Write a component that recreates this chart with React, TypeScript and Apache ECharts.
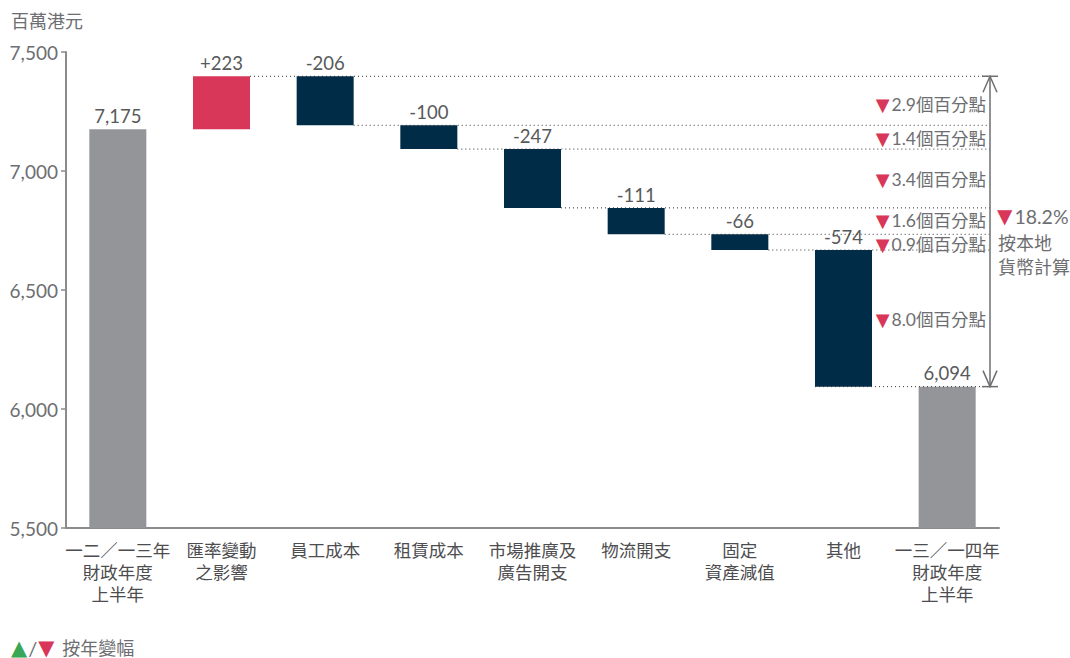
import React, { useEffect, useRef } from "react";
import * as echarts from "echarts";

const categories = [
  "一二／一三年\n財政年度\n上半年",
  "匯率變動\n之影響",
  "員工成本",
  "租賃成本",
  "市場推廣及\n廣告開支",
  "物流開支",
  "固定\n資產減值",
  "其他",
  "一三／一四年\n財政年度\n上半年",
];
const startValue = 7175;
const changes = [223, -206, -100, -247, -111, -66, -574];
const endValue = 6094;
const valueLabels = ["7,175", "+223", "-206", "-100", "-247", "-111", "-66", "-574", "6,094"];
const pctChanges = ["2.9", "1.4", "3.4", "1.6", "0.9", "8.0"];
const totalChange = "18.2%";
const yTicks = { min: 5500, max: 7500, interval: 500 };

const GRAY = "#939598";
const RED = "#d83759";
const NAVY = "#002c47";
const TEXT = "#6d6e71";
const FONT = "Lato, 'Noto Sans CJK TC', sans-serif";
const TRI = "DejaVu Sans";
const annotNudge = [4, 1, 1, -1, 2, 1];

export default function App() {
  const ref = useRef<HTMLDivElement>(null);
  useEffect(() => {
    const chart = echarts.init(ref.current!, null, { renderer: "svg" });

    const levels: number[] = [startValue];
    changes.forEach((c) => levels.push(levels[levels.length - 1] + c));
    const base: any[] = ["-"];
    const vals: any[] = [{ value: startValue, itemStyle: { color: GRAY } }];
    changes.forEach((c, i) => {
      base.push(Math.min(levels[i], levels[i + 1]));
      vals.push({ value: Math.abs(c), itemStyle: { color: c >= 0 ? RED : NAVY } });
    });
    base.push("-");
    vals.push({ value: endValue, itemStyle: { color: GRAY } });

    const connectors: number[][] = [];
    for (let i = 1; i < levels.length - 1; i++) connectors.push([i, levels[i], 1]);
    connectors.push([changes.length, endValue, -1]);
    const annots: number[][] = [];
    for (let i = 1; i < changes.length; i++) annots.push([i + 1, levels[i], levels[i + 1]]);
    const lastIdx = categories.length - 1;
    const barPct = 0.55;

    chart.setOption({
      animation: false,
      grid: { left: 66, right: 71, top: 52, bottom: 130, containLabel: false },
      xAxis: {
        type: "category",
        data: categories,
        axisLine: { lineStyle: { color: "#8b8b8e", width: 2 } },
        axisTick: { length: 6, lineStyle: { color: "#8b8b8e", width: 1.5 } },
        axisLabel: {
          color: "#4d4d4f",
          fontSize: 17.5,
          fontFamily: FONT,
          lineHeight: 22,
          margin: 11,
          interval: 0,
        },
      },
      yAxis: {
        type: "value",
        min: yTicks.min,
        max: yTicks.max,
        interval: yTicks.interval,
        splitLine: { show: false },
        axisLine: { show: true, lineStyle: { color: "#8b8b8e", width: 2 } },
        axisTick: { show: true, length: 5, lineStyle: { color: "#8b8b8e", width: 1.5 } },
        axisLabel: {
          color: TEXT,
          fontSize: 19,
          fontFamily: FONT,
          margin: 8,
          formatter: (v: number) => v.toLocaleString("en-US"),
        },
      },
      series: [
        {
          type: "bar",
          stack: "w",
          data: base,
          barWidth: "55%",
          itemStyle: { color: "transparent" },
          silent: true,
        },
        {
          type: "bar",
          stack: "w",
          data: vals,
          barWidth: "55%",
          label: {
            show: true,
            position: "top",
            distance: 4,
            color: "#58595b",
            fontSize: 18.5,
            fontFamily: FONT,
            formatter: (p: any) => valueLabels[p.dataIndex],
          },
        },
        {
          type: "custom",
          silent: true,
          z: 5,
          data: connectors,
          encode: { x: 0, y: 1 },
          renderItem: (params: any, api: any) => {
            const idx = api.value(0);
            const lvl = api.value(1);
            const side = api.value(2);
            const p = api.coord([idx, lvl]);
            const w = api.size([1, 0])[0];
            const endX = api.coord([lastIdx, lvl])[0] + w / 2 - 9;
            const x0 = p[0] + (side * w * barPct) / 2;
            return {
              type: "line",
              shape: { x1: x0, y1: p[1], x2: endX, y2: p[1] },
              style: { stroke: "#333", lineWidth: 1, lineDash: [1, 3] },
            };
          },
        },
        {
          type: "custom",
          silent: true,
          z: 6,
          data: annots,
          encode: { x: 0, y: 1 },
          renderItem: (params: any, api: any) => {
            const hi = api.value(1);
            const lo = api.value(2);
            const w = api.size([1, 0])[0];
            const arrowX = api.coord([lastIdx, hi])[0] + w / 2 - 9;
            const y = api.coord([lastIdx, (hi + lo) / 2])[1];
            return {
              type: "text",
              x: arrowX - 4,
              y: y + annotNudge[params.dataIndex],
              style: {
                text: "{t|▼}{n|" + pctChanges[params.dataIndex] + "個百分點}",
                align: "right",
                verticalAlign: "middle",
                rich: {
                  t: { fill: RED, fontSize: 18, lineHeight: 17, fontFamily: TRI, padding: [0, 2, 0, 0] },
                  n: { fill: TEXT, fontSize: 17.5, lineHeight: 17, fontFamily: FONT },
                },
              },
            };
          },
        },
        {
          type: "custom",
          silent: true,
          z: 6,
          data: [[lastIdx, levels[1], endValue]],
          encode: { x: 0, y: 1 },
          renderItem: (params: any, api: any) => {
            const top = api.value(1);
            const bot = api.value(2);
            const w = api.size([1, 0])[0];
            const pTop = api.coord([lastIdx, top]);
            const pBot = api.coord([lastIdx, bot]);
            const x = pTop[0] + w / 2 - 9;
            const st = { stroke: "#6d6e71", lineWidth: 1.5, fill: "none" };
            return {
              type: "group",
              children: [
                { type: "line", shape: { x1: x, y1: pTop[1], x2: x, y2: pBot[1] }, style: st },
                { type: "line", shape: { x1: x - 8, y1: pTop[1], x2: x + 8, y2: pTop[1] }, style: st },
                { type: "line", shape: { x1: x - 8, y1: pBot[1], x2: x + 8, y2: pBot[1] }, style: st },
                {
                  type: "polyline",
                  shape: { points: [[x - 7, pTop[1] + 16], [x, pTop[1]], [x + 7, pTop[1] + 16]] },
                  style: st,
                },
                {
                  type: "polyline",
                  shape: { points: [[x - 7, pBot[1] - 16], [x, pBot[1]], [x + 7, pBot[1] - 16]] },
                  style: st,
                },
              ],
            };
          },
        },
      ],
      graphic: [
        {
          type: "text",
          left: 11,
          top: 12,
          style: { text: "百萬港元", fill: TEXT, fontSize: 18, fontFamily: FONT },
        },
        {
          type: "text",
          left: 997,
          top: 206,
          style: {
            text: "{t|▼}{n|" + totalChange + "}",
            rich: {
              t: { fill: RED, fontSize: 20, fontFamily: TRI, padding: [0, 2, 0, 0] },
              n: { fill: TEXT, fontSize: 19.5, fontFamily: FONT },
            },
          },
        },
        {
          type: "text",
          left: 998,
          top: 231,
          style: {
            text: "按本地\n貨幣計算",
            fill: TEXT,
            fontSize: 18,
            lineHeight: 24,
            fontFamily: FONT,
          },
        },
        {
          type: "text",
          left: 11,
          top: 637,
          style: {
            text: "{g|▲}{s|/}{r|▼}{n|按年變幅}",
            rich: {
              g: { fill: "#3aa757", fontSize: 21, fontFamily: TRI },
              s: { fill: TEXT, fontSize: 20, fontFamily: FONT, padding: [0, 1, 0, 1] },
              r: { fill: RED, fontSize: 21, fontFamily: TRI, padding: [0, 8, 0, 0] },
              n: { fill: TEXT, fontSize: 18, fontFamily: FONT },
            },
          },
        },
      ],
    });
    return () => chart.dispose();
  }, []);
  return <div ref={ref} style={{ width: 1070, height: 658, position: "absolute", left: 0, top: 0 }} />;
}
